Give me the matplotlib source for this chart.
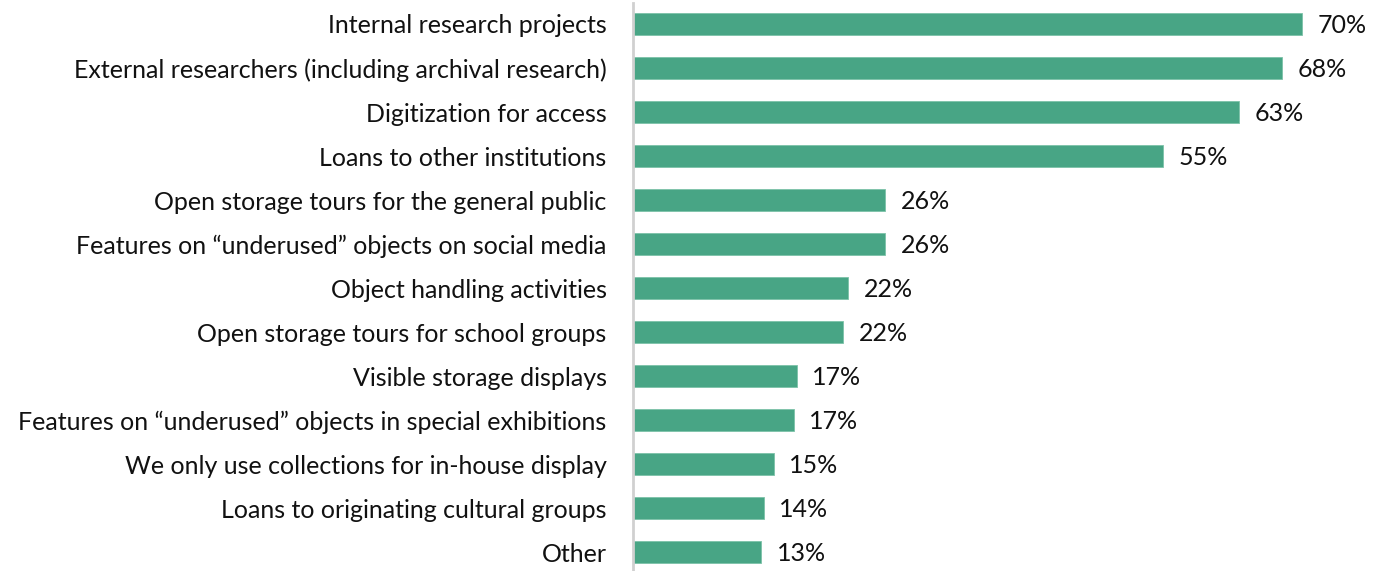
import matplotlib
matplotlib.use("Agg")
import matplotlib.pyplot as plt

plt.rcParams["font.family"] = ["Lato", "DejaVu Sans"]

categories = [
    "Internal research projects",
    "External researchers (including archival research)",
    "Digitization for access",
    "Loans to other institutions",
    "Open storage tours for the general public",
    "Features on \u201cunderused\u201d objects on social media",
    "Object handling activities",
    "Open storage tours for school groups",
    "Visible storage displays",
    "Features on \u201cunderused\u201d objects in special exhibitions",
    "We only use collections for in-house display",
    "Loans to originating cultural groups",
    "Other",
]
# bar lengths (percent)
values = [70.0, 67.9, 63.4, 55.4, 26.4, 26.4, 22.5, 22.0, 17.1, 16.8, 14.7, 13.7, 13.4]
value_labels = ["70%", "68%", "63%", "55%", "26%", "26%", "22%", "22%",
                "17%", "17%", "15%", "14%", "13%"]

W, H = 1379, 571
fig = plt.figure(figsize=(W / 100, H / 100), dpi=100)
ax = fig.add_axes([633 / W, 0, 1 - 633 / W, 568 / H])

pos = list(range(len(categories)))
ax.barh(pos, values, height=0.5, color="#48a585", edgecolor="#7cc2a8", linewidth=0.6)

for y, v, lab in zip(pos, values, value_labels):
    ax.text(v + 1.6, y + 0.03, lab, va="center", ha="left", fontsize=18, color="#111111")

ax.set_yticks(pos)
ax.set_yticklabels(categories, fontsize=18, color="#111111")
ax.tick_params(axis="y", length=0, pad=19)
ax.set_xticks([])
ax.set_xlim(0, 78)
ax.set_ylim(12.43, -0.477)

for s in ["top", "right", "bottom"]:
    ax.spines[s].set_visible(False)
ax.spines["left"].set_color("#d0d0d0")
ax.spines["left"].set_linewidth(2)

fig.savefig("out.png", dpi=100)
